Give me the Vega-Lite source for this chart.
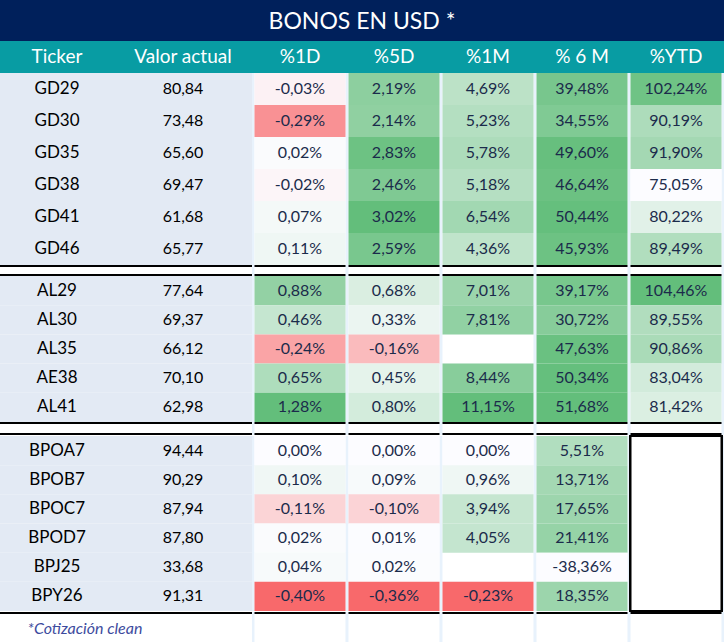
{
"$schema": "https://vega.github.io/schema/vega-lite/v6.json",
"padding": 0,
"background": "white",
"spacing": 0,
"config": {"view": {"stroke": null}, "concat": {"spacing": 0},
  "locale": {"number": {"decimal": ",", "thousands": ".", "grouping": [3], "currency": ["", " €"], "minus": "-", "percent": "%"}}},
"datasets": {
 "cols": [{"key": "%1D"}, {"key": "%5D"}, {"key": "%1M"}, {"key": "% 6 M"}, {"key": "%YTD"}],
 "bonds": [
  {"grp":1,"Ticker":"GD29","Valor":80.84,"%1D":-0.0003,"%5D":0.0219,"%1M":0.0469,"% 6 M":0.3948,"%YTD":1.0224},
  {"grp":1,"Ticker":"GD30","Valor":73.48,"%1D":-0.0029,"%5D":0.0214,"%1M":0.0523,"% 6 M":0.3455,"%YTD":0.9019},
  {"grp":1,"Ticker":"GD35","Valor":65.60,"%1D":0.0002,"%5D":0.0283,"%1M":0.0578,"% 6 M":0.4960,"%YTD":0.9190},
  {"grp":1,"Ticker":"GD38","Valor":69.47,"%1D":-0.0002,"%5D":0.0246,"%1M":0.0518,"% 6 M":0.4664,"%YTD":0.7505},
  {"grp":1,"Ticker":"GD41","Valor":61.68,"%1D":0.0007,"%5D":0.0302,"%1M":0.0654,"% 6 M":0.5044,"%YTD":0.8022},
  {"grp":1,"Ticker":"GD46","Valor":65.77,"%1D":0.0011,"%5D":0.0259,"%1M":0.0436,"% 6 M":0.4593,"%YTD":0.8949},
  {"grp":2,"Ticker":"AL29","Valor":77.64,"%1D":0.0088,"%5D":0.0068,"%1M":0.0701,"% 6 M":0.3917,"%YTD":1.0446},
  {"grp":2,"Ticker":"AL30","Valor":69.37,"%1D":0.0046,"%5D":0.0033,"%1M":0.0781,"% 6 M":0.3072,"%YTD":0.8955},
  {"grp":2,"Ticker":"AL35","Valor":66.12,"%1D":-0.0024,"%5D":-0.0016,"%1M":null,"% 6 M":0.4763,"%YTD":0.9086},
  {"grp":2,"Ticker":"AE38","Valor":70.10,"%1D":0.0065,"%5D":0.0045,"%1M":0.0844,"% 6 M":0.5034,"%YTD":0.8304},
  {"grp":2,"Ticker":"AL41","Valor":62.98,"%1D":0.0128,"%5D":0.0080,"%1M":0.1115,"% 6 M":0.5168,"%YTD":0.8142},
  {"grp":3,"Ticker":"BPOA7","Valor":94.44,"%1D":0.0000,"%5D":0.0000,"%1M":0.0000,"% 6 M":0.0551,"%YTD":null},
  {"grp":3,"Ticker":"BPOB7","Valor":90.29,"%1D":0.0010,"%5D":0.0009,"%1M":0.0096,"% 6 M":0.1371,"%YTD":null},
  {"grp":3,"Ticker":"BPOC7","Valor":87.94,"%1D":-0.0011,"%5D":-0.0010,"%1M":0.0394,"% 6 M":0.1765,"%YTD":null},
  {"grp":3,"Ticker":"BPOD7","Valor":87.80,"%1D":0.0002,"%5D":0.0001,"%1M":0.0405,"% 6 M":0.2141,"%YTD":null},
  {"grp":3,"Ticker":"BPJ25","Valor":33.68,"%1D":0.0004,"%5D":0.0002,"%1M":null,"% 6 M":-0.3836,"%YTD":null},
  {"grp":3,"Ticker":"BPY26","Valor":91.31,"%1D":-0.0040,"%5D":-0.0036,"%1M":-0.0023,"% 6 M":0.1835,"%YTD":null}
 ]
},
"vconcat": [
 {"width": 724, "height": 41, "data": {"values": [{"t": "BONOS EN USD *"}]},
  "layer": [
   {"mark": {"type": "rect", "fill": "#00205B"}, "encoding": {}},
   {"mark": {"type": "text", "fill": "white", "font": "Lato", "fontSize": 23, "baseline": "middle", "dy": 1}, "encoding": {"text": {"field": "t", "type": "nominal"}}}
  ]},
 {"hconcat": [
   {"width": 252, "height": 32, "data": {"values": [{"key": "Ticker"}, {"key": "Valor actual"}]},
    "layer": [
     {"mark": {"type": "rect", "fill": "#089CA3"}, "encoding": {}},
     {"mark": {"type": "text", "fill": "white", "font": "Lato", "fontSize": 19, "baseline": "middle", "dx": -6},
      "encoding": {"x": {"field": "key", "type": "nominal", "scale": {"type": "band", "domain": ["Ticker", "Valor actual"], "paddingInner": 0, "paddingOuter": 0}, "axis": null}, "text": {"field": "key", "type": "nominal"}}}
    ]},
   {"width": 472, "height": 32, "data": {"name": "cols"},
    "layer": [
     {"mark": {"type": "rect", "fill": "#089CA3"}, "encoding": {}},
     {"mark": {"type": "text", "fill": "white", "font": "Lato", "fontSize": 19, "baseline": "middle"},
      "encoding": {"x": {"field": "key", "type": "nominal", "scale": {"type": "band", "domain": ["%1D", "%5D", "%1M", "% 6 M", "%YTD"], "paddingInner": 0.032, "paddingOuter": 0.0266}, "axis": null}, "text": {"field": "key", "type": "nominal"}}}
    ]}
  ], "spacing": 0},
 {"hconcat": [
   {"width": 252, "height": 192, "data": {"name": "bonds"}, "transform": [{"filter": {"field": "grp", "equal": 1}}],
    "encoding": {"y": {"field": "Ticker", "type": "nominal", "scale": {"type": "band", "domain": ["GD29","GD30","GD35","GD38","GD41","GD46"], "paddingInner": 0, "paddingOuter": 0}, "axis": null}},
    "layer": [
     {"mark": {"type": "rect", "fill": "#E3EAF4"}},
     {"mark": {"type": "text", "fill": "black", "font": "Lato", "fontSize": 17, "baseline": "middle", "dx": -6},
      "encoding": {"x": {"datum": "Ticker", "type": "nominal", "scale": {"type": "band", "domain": ["Ticker", "Valor actual"], "paddingInner": 0, "paddingOuter": 0}, "axis": null}, "text": {"field": "Ticker", "type": "nominal"}}},
     {"mark": {"type": "text", "fill": "black", "font": "Lato", "fontSize": 16, "baseline": "middle", "dx": -6},
      "encoding": {"x": {"datum": "Valor actual", "type": "nominal"}, "text": {"field": "Valor", "type": "quantitative", "format": ".2f"}}}
    ]},
   {"width": 472, "height": 192, "data": {"name": "bonds"}, "transform": [{"filter": {"field": "grp", "equal": 1}}, {"fold": ["%1D", "%5D", "%1M", "% 6 M", "%YTD"]}],
    "encoding": {"y": {"field": "Ticker", "type": "nominal", "scale": {"type": "band", "domain": ["GD29","GD30","GD35","GD38","GD41","GD46"], "paddingInner": 0, "paddingOuter": 0}, "axis": null}},
    "layer": [
     {"mark": {"type": "rect", "fill": "#E8F2FC"}},
     {"mark": {"type": "rect", "fill": "white"}, "encoding": {"x": {"field": "key", "type": "nominal", "scale": {"type": "band", "domain": ["%1D", "%5D", "%1M", "% 6 M", "%YTD"], "paddingInner": 0.032, "paddingOuter": 0.0266}, "axis": null}}},
     {"transform": [{"filter": {"field": "key", "equal": "%1D"}}, {"filter": {"field": "value", "valid": true}}], "mark": "rect",
      "encoding": {"x": {"field": "key", "type": "nominal"}, "color": {"field": "value", "type": "quantitative", "legend": null, "scale": {"type": "linear", "domain": [-0.004, 0, 0.0128], "range": ["#F8696B", "#FCFCFF", "#63BE7B"], "interpolate": "rgb"}}}},
     {"transform": [{"filter": {"field": "key", "equal": "%5D"}}, {"filter": {"field": "value", "valid": true}}], "mark": "rect",
      "encoding": {"x": {"field": "key", "type": "nominal"}, "color": {"field": "value", "type": "quantitative", "legend": null, "scale": {"type": "linear", "domain": [-0.0036, 0, 0.0302], "range": ["#F8696B", "#FCFCFF", "#63BE7B"], "interpolate": "rgb"}}}},
     {"transform": [{"filter": {"field": "key", "equal": "%1M"}}, {"filter": {"field": "value", "valid": true}}], "mark": "rect",
      "encoding": {"x": {"field": "key", "type": "nominal"}, "color": {"field": "value", "type": "quantitative", "legend": null, "scale": {"type": "linear", "domain": [-0.0023, 0, 0.1115], "range": ["#F8696B", "#FCFCFF", "#63BE7B"], "interpolate": "rgb"}}}},
     {"transform": [{"filter": {"field": "key", "equal": "% 6 M"}}, {"filter": {"field": "value", "valid": true}}], "mark": "rect",
      "encoding": {"x": {"field": "key", "type": "nominal"}, "color": {"field": "value", "type": "quantitative", "legend": null, "scale": {"type": "linear", "domain": [-0.3836, 0.5168], "range": ["#FCFCFF", "#63BE7B"], "interpolate": "rgb"}}}},
     {"transform": [{"filter": {"field": "key", "equal": "%YTD"}}, {"filter": {"field": "value", "valid": true}}], "mark": "rect",
      "encoding": {"x": {"field": "key", "type": "nominal"}, "color": {"field": "value", "type": "quantitative", "legend": null, "scale": {"type": "linear", "domain": [0.7505, 1.0446], "range": ["#FCFCFF", "#63BE7B"], "interpolate": "rgb"}}}},
     {"transform": [{"filter": {"field": "value", "valid": true}}], "mark": {"type": "text", "fill": "#1B2B4B", "font": "Lato", "fontSize": 16, "baseline": "middle"},
      "encoding": {"x": {"field": "key", "type": "nominal"}, "text": {"field": "value", "type": "quantitative", "format": ".2%"}}}
    ],
    "resolve": {"scale": {"color": "independent"}}}
  ], "spacing": 0},
 {"hconcat": [
   {"width": 252, "height": 2, "data": {"values": [{"k": 1}]}, "mark": {"type": "rect", "fill": "black"}, "encoding": {}},
   {"width": 472, "height": 2, "data": {"name": "cols"},
    "layer": [
     {"mark": {"type": "rect", "fill": "#E8F2FC"}, "encoding": {}},
     {"mark": {"type": "rect", "fill": "black"}, "encoding": {"x": {"field": "key", "type": "nominal", "scale": {"type": "band", "domain": ["%1D", "%5D", "%1M", "% 6 M", "%YTD"], "paddingInner": 0.032, "paddingOuter": 0.0266}, "axis": null}}}
    ]}
  ], "spacing": 0},
 {"hconcat": [
   {"width": 252, "height": 7, "data": {"values": [{"k": 1}]}, "mark": {"type": "rect", "fill": "white"}, "encoding": {}},
   {"width": 472, "height": 7, "data": {"name": "cols"},
    "layer": [
     {"mark": {"type": "rect", "fill": "#E8F2FC"}, "encoding": {}},
     {"mark": {"type": "rect", "fill": "white"}, "encoding": {"x": {"field": "key", "type": "nominal", "scale": {"type": "band", "domain": ["%1D", "%5D", "%1M", "% 6 M", "%YTD"], "paddingInner": 0.032, "paddingOuter": 0.0266}, "axis": null}}}
    ]}
  ], "spacing": 0},
 {"hconcat": [
   {"width": 252, "height": 2, "data": {"values": [{"k": 1}]}, "mark": {"type": "rect", "fill": "black"}, "encoding": {}},
   {"width": 472, "height": 2, "data": {"name": "cols"},
    "layer": [
     {"mark": {"type": "rect", "fill": "#E8F2FC"}, "encoding": {}},
     {"mark": {"type": "rect", "fill": "black"}, "encoding": {"x": {"field": "key", "type": "nominal", "scale": {"type": "band", "domain": ["%1D", "%5D", "%1M", "% 6 M", "%YTD"], "paddingInner": 0.032, "paddingOuter": 0.0266}, "axis": null}}}
    ]}
  ], "spacing": 0},
 {"hconcat": [
   {"width": 252, "height": 146, "data": {"name": "bonds"}, "transform": [{"filter": {"field": "grp", "equal": 2}}],
    "encoding": {"y": {"field": "Ticker", "type": "nominal", "scale": {"type": "band", "domain": ["AL29","AL30","AL35","AE38","AL41"], "paddingInner": 0, "paddingOuter": 0}, "axis": null}},
    "layer": [
     {"mark": {"type": "rect", "fill": "#E3EAF4"}},
     {"mark": {"type": "text", "fill": "black", "font": "Lato", "fontSize": 17, "baseline": "middle", "dx": -6},
      "encoding": {"x": {"datum": "Ticker", "type": "nominal", "scale": {"type": "band", "domain": ["Ticker", "Valor actual"], "paddingInner": 0, "paddingOuter": 0}, "axis": null}, "text": {"field": "Ticker", "type": "nominal"}}},
     {"mark": {"type": "text", "fill": "black", "font": "Lato", "fontSize": 16, "baseline": "middle", "dx": -6},
      "encoding": {"x": {"datum": "Valor actual", "type": "nominal"}, "text": {"field": "Valor", "type": "quantitative", "format": ".2f"}}}
    ]},
   {"width": 472, "height": 146, "data": {"name": "bonds"}, "transform": [{"filter": {"field": "grp", "equal": 2}}, {"fold": ["%1D", "%5D", "%1M", "% 6 M", "%YTD"]}],
    "encoding": {"y": {"field": "Ticker", "type": "nominal", "scale": {"type": "band", "domain": ["AL29","AL30","AL35","AE38","AL41"], "paddingInner": 0, "paddingOuter": 0}, "axis": null}},
    "layer": [
     {"mark": {"type": "rect", "fill": "#E8F2FC"}},
     {"mark": {"type": "rect", "fill": "white"}, "encoding": {"x": {"field": "key", "type": "nominal", "scale": {"type": "band", "domain": ["%1D", "%5D", "%1M", "% 6 M", "%YTD"], "paddingInner": 0.032, "paddingOuter": 0.0266}, "axis": null}}},
     {"transform": [{"filter": {"field": "key", "equal": "%1D"}}, {"filter": {"field": "value", "valid": true}}], "mark": "rect",
      "encoding": {"x": {"field": "key", "type": "nominal"}, "color": {"field": "value", "type": "quantitative", "legend": null, "scale": {"type": "linear", "domain": [-0.004, 0, 0.0128], "range": ["#F8696B", "#FCFCFF", "#63BE7B"], "interpolate": "rgb"}}}},
     {"transform": [{"filter": {"field": "key", "equal": "%5D"}}, {"filter": {"field": "value", "valid": true}}], "mark": "rect",
      "encoding": {"x": {"field": "key", "type": "nominal"}, "color": {"field": "value", "type": "quantitative", "legend": null, "scale": {"type": "linear", "domain": [-0.0036, 0, 0.0302], "range": ["#F8696B", "#FCFCFF", "#63BE7B"], "interpolate": "rgb"}}}},
     {"transform": [{"filter": {"field": "key", "equal": "%1M"}}, {"filter": {"field": "value", "valid": true}}], "mark": "rect",
      "encoding": {"x": {"field": "key", "type": "nominal"}, "color": {"field": "value", "type": "quantitative", "legend": null, "scale": {"type": "linear", "domain": [-0.0023, 0, 0.1115], "range": ["#F8696B", "#FCFCFF", "#63BE7B"], "interpolate": "rgb"}}}},
     {"transform": [{"filter": {"field": "key", "equal": "% 6 M"}}, {"filter": {"field": "value", "valid": true}}], "mark": "rect",
      "encoding": {"x": {"field": "key", "type": "nominal"}, "color": {"field": "value", "type": "quantitative", "legend": null, "scale": {"type": "linear", "domain": [-0.3836, 0.5168], "range": ["#FCFCFF", "#63BE7B"], "interpolate": "rgb"}}}},
     {"transform": [{"filter": {"field": "key", "equal": "%YTD"}}, {"filter": {"field": "value", "valid": true}}], "mark": "rect",
      "encoding": {"x": {"field": "key", "type": "nominal"}, "color": {"field": "value", "type": "quantitative", "legend": null, "scale": {"type": "linear", "domain": [0.7505, 1.0446], "range": ["#FCFCFF", "#63BE7B"], "interpolate": "rgb"}}}},
     {"transform": [{"filter": {"field": "value", "valid": true}}], "mark": {"type": "text", "fill": "#1B2B4B", "font": "Lato", "fontSize": 16, "baseline": "middle"},
      "encoding": {"x": {"field": "key", "type": "nominal"}, "text": {"field": "value", "type": "quantitative", "format": ".2%"}}}
    ],
    "resolve": {"scale": {"color": "independent"}}}
  ], "spacing": 0},
 {"hconcat": [
   {"width": 252, "height": 2, "data": {"values": [{"k": 1}]}, "mark": {"type": "rect", "fill": "black"}, "encoding": {}},
   {"width": 472, "height": 2, "data": {"name": "cols"},
    "layer": [
     {"mark": {"type": "rect", "fill": "#E8F2FC"}, "encoding": {}},
     {"mark": {"type": "rect", "fill": "black"}, "encoding": {"x": {"field": "key", "type": "nominal", "scale": {"type": "band", "domain": ["%1D", "%5D", "%1M", "% 6 M", "%YTD"], "paddingInner": 0.032, "paddingOuter": 0.0266}, "axis": null}}}
    ]}
  ], "spacing": 0},
 {"hconcat": [
   {"width": 252, "height": 9, "data": {"values": [{"k": 1}]}, "mark": {"type": "rect", "fill": "white"}, "encoding": {}},
   {"width": 472, "height": 9, "data": {"name": "cols"},
    "layer": [
     {"mark": {"type": "rect", "fill": "#E8F2FC"}, "encoding": {}},
     {"mark": {"type": "rect", "fill": "white"}, "encoding": {"x": {"field": "key", "type": "nominal", "scale": {"type": "band", "domain": ["%1D", "%5D", "%1M", "% 6 M", "%YTD"], "paddingInner": 0.032, "paddingOuter": 0.0266}, "axis": null}}}
    ]}
  ], "spacing": 0},
 {"hconcat": [
   {"width": 252, "height": 2, "data": {"values": [{"k": 1}]}, "mark": {"type": "rect", "fill": "black"}, "encoding": {}},
   {"width": 472, "height": 2, "data": {"name": "cols"},
    "layer": [
     {"mark": {"type": "rect", "fill": "#E8F2FC"}, "encoding": {}},
     {"mark": {"type": "rect", "fill": "black"}, "encoding": {"x": {"field": "key", "type": "nominal", "scale": {"type": "band", "domain": ["%1D", "%5D", "%1M", "% 6 M", "%YTD"], "paddingInner": 0.032, "paddingOuter": 0.0266}, "axis": null}}}
    ]}
  ], "spacing": 0},
 {"hconcat": [
   {"width": 252, "height": 175, "data": {"name": "bonds"}, "transform": [{"filter": {"field": "grp", "equal": 3}}],
    "encoding": {"y": {"field": "Ticker", "type": "nominal", "scale": {"type": "band", "domain": ["BPOA7","BPOB7","BPOC7","BPOD7","BPJ25","BPY26"], "paddingInner": 0, "paddingOuter": 0}, "axis": null}},
    "layer": [
     {"mark": {"type": "rect", "fill": "#E3EAF4"}},
     {"mark": {"type": "text", "fill": "black", "font": "Lato", "fontSize": 17, "baseline": "middle", "dx": -6},
      "encoding": {"x": {"datum": "Ticker", "type": "nominal", "scale": {"type": "band", "domain": ["Ticker", "Valor actual"], "paddingInner": 0, "paddingOuter": 0}, "axis": null}, "text": {"field": "Ticker", "type": "nominal"}}},
     {"mark": {"type": "text", "fill": "black", "font": "Lato", "fontSize": 16, "baseline": "middle", "dx": -6},
      "encoding": {"x": {"datum": "Valor actual", "type": "nominal"}, "text": {"field": "Valor", "type": "quantitative", "format": ".2f"}}}
    ]},
   {"width": 472, "height": 175, "data": {"name": "bonds"}, "transform": [{"filter": {"field": "grp", "equal": 3}}, {"fold": ["%1D", "%5D", "%1M", "% 6 M", "%YTD"]}],
    "layer": [
     {"mark": {"type": "rect", "fill": "#E8F2FC"}, "encoding": {}},
     {"mark": {"type": "rect", "fill": "white"}, "encoding": {"x": {"field": "key", "type": "nominal", "scale": {"type": "band", "domain": ["%1D", "%5D", "%1M", "% 6 M", "%YTD"], "paddingInner": 0.032, "paddingOuter": 0.0266}, "axis": null},
       "y": {"field": "Ticker", "type": "nominal", "scale": {"type": "band", "domain": ["BPOA7","BPOB7","BPOC7","BPOD7","BPJ25","BPY26"], "paddingInner": 0, "paddingOuter": 0}, "axis": null}}},
     {"transform": [{"filter": {"field": "key", "equal": "%YTD"}}], "mark": {"type": "rect", "fill": "white", "stroke": "black", "strokeWidth": 2},
      "encoding": {"x": {"field": "key", "type": "nominal"}}},
     {"transform": [{"filter": {"field": "key", "equal": "%1D"}}, {"filter": {"field": "value", "valid": true}}], "mark": "rect",
      "encoding": {"x": {"field": "key", "type": "nominal"}, "y": {"field": "Ticker", "type": "nominal"}, "color": {"field": "value", "type": "quantitative", "legend": null, "scale": {"type": "linear", "domain": [-0.004, 0, 0.0128], "range": ["#F8696B", "#FCFCFF", "#63BE7B"], "interpolate": "rgb"}}}},
     {"transform": [{"filter": {"field": "key", "equal": "%5D"}}, {"filter": {"field": "value", "valid": true}}], "mark": "rect",
      "encoding": {"x": {"field": "key", "type": "nominal"}, "y": {"field": "Ticker", "type": "nominal"}, "color": {"field": "value", "type": "quantitative", "legend": null, "scale": {"type": "linear", "domain": [-0.0036, 0, 0.0302], "range": ["#F8696B", "#FCFCFF", "#63BE7B"], "interpolate": "rgb"}}}},
     {"transform": [{"filter": {"field": "key", "equal": "%1M"}}, {"filter": {"field": "value", "valid": true}}], "mark": "rect",
      "encoding": {"x": {"field": "key", "type": "nominal"}, "y": {"field": "Ticker", "type": "nominal"}, "color": {"field": "value", "type": "quantitative", "legend": null, "scale": {"type": "linear", "domain": [-0.0023, 0, 0.1115], "range": ["#F8696B", "#FCFCFF", "#63BE7B"], "interpolate": "rgb"}}}},
     {"transform": [{"filter": {"field": "key", "equal": "% 6 M"}}, {"filter": {"field": "value", "valid": true}}], "mark": "rect",
      "encoding": {"x": {"field": "key", "type": "nominal"}, "y": {"field": "Ticker", "type": "nominal"}, "color": {"field": "value", "type": "quantitative", "legend": null, "scale": {"type": "linear", "domain": [-0.3836, 0.5168], "range": ["#FCFCFF", "#63BE7B"], "interpolate": "rgb"}}}},
     {"transform": [{"filter": {"field": "value", "valid": true}}], "mark": {"type": "text", "fill": "#1B2B4B", "font": "Lato", "fontSize": 16, "baseline": "middle"},
      "encoding": {"x": {"field": "key", "type": "nominal"}, "y": {"field": "Ticker", "type": "nominal"}, "text": {"field": "value", "type": "quantitative", "format": ".2%"}}}
    ],
    "resolve": {"scale": {"color": "independent"}}}
  ], "spacing": 0},
 {"hconcat": [
   {"width": 252, "height": 2, "data": {"values": [{"k": 1}]}, "mark": {"type": "rect", "fill": "black"}, "encoding": {}},
   {"width": 472, "height": 2, "data": {"name": "cols"},
    "layer": [
     {"mark": {"type": "rect", "fill": "#E8F2FC"}, "encoding": {}},
     {"mark": {"type": "rect", "fill": "black"}, "encoding": {"x": {"field": "key", "type": "nominal", "scale": {"type": "band", "domain": ["%1D", "%5D", "%1M", "% 6 M", "%YTD"], "paddingInner": 0.032, "paddingOuter": 0.0266}, "axis": null}}}
    ]}
  ], "spacing": 0},
 {"hconcat": [
   {"width": 252, "height": 30, "data": {"values": [{"t": "*Cotización clean"}]},
    "layer": [
     {"mark": {"type": "rect", "fill": "white"}, "encoding": {}},
     {"mark": {"type": "text", "fill": "#3D4B9E", "font": "Lato", "fontSize": 16, "fontStyle": "italic", "baseline": "middle", "dx": -41}, "encoding": {"text": {"field": "t", "type": "nominal"}}}
    ]},
   {"width": 472, "height": 30, "data": {"name": "cols"},
    "layer": [
     {"mark": {"type": "rect", "fill": "#E8F2FC"}, "encoding": {}},
     {"mark": {"type": "rect", "fill": "white"}, "encoding": {"x": {"field": "key", "type": "nominal", "scale": {"type": "band", "domain": ["%1D", "%5D", "%1M", "% 6 M", "%YTD"], "paddingInner": 0.032, "paddingOuter": 0.0266}, "axis": null}}}
    ]}
  ], "spacing": 0}
]
}
